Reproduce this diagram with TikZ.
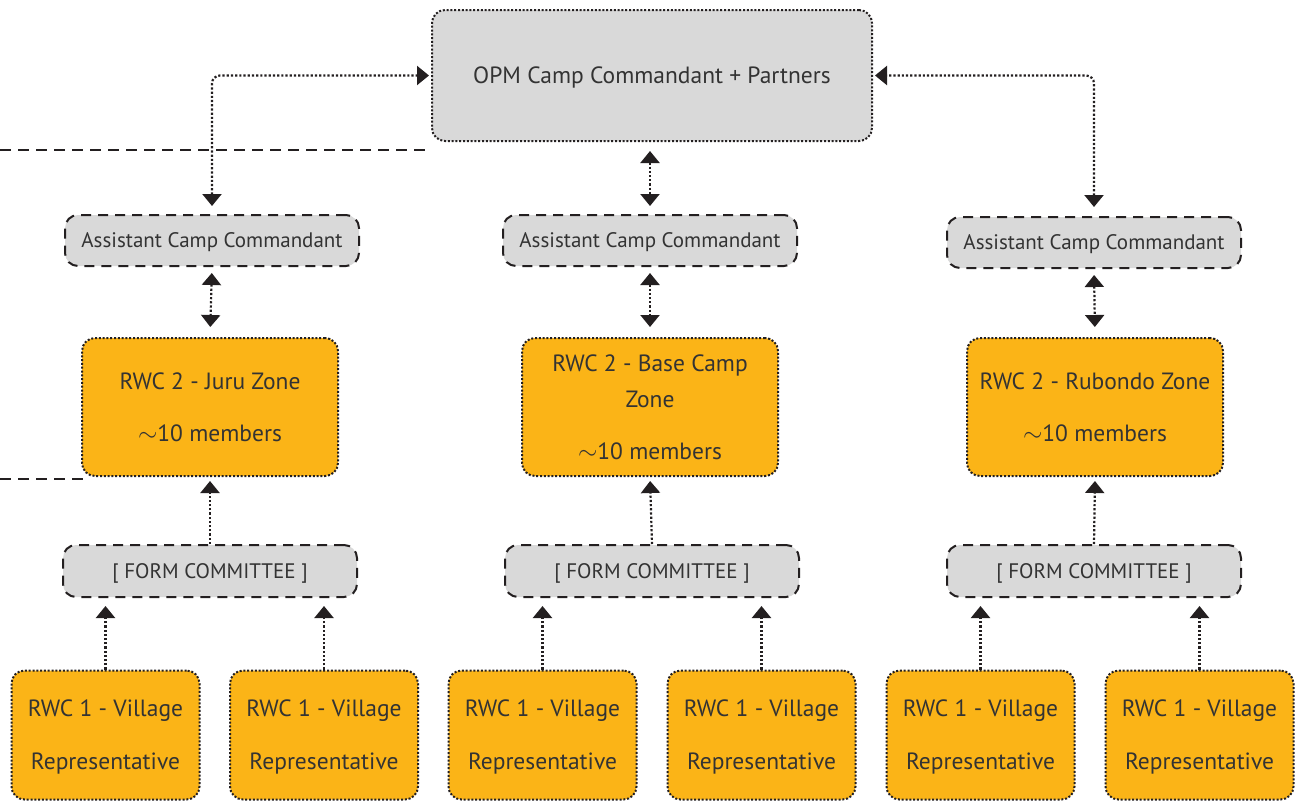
\documentclass[tikz,border=0pt]{standalone}
\usepackage{fontspec}
\setmainfont{PT Sans}
\usetikzlibrary{positioning,arrows.meta}
\definecolor{boxgray}{HTML}{D9D9D9}
\definecolor{rwcorange}{HTML}{FBB417}
\definecolor{ink}{HTML}{231F20}
\definecolor{txt}{HTML}{333333}
\tikzset{
	box/.style={rounded corners=13pt, draw=ink, line width=2pt, inner sep=0pt, align=center, text=txt, text depth=0pt, font=\fontsize{23.5}{36}\selectfont},
	dotbox/.style={box, dash pattern=on 2pt off 1.8pt},
	dashbox/.style={box, dash pattern=on 10pt off 7pt, font=\fontsize{21}{30}\selectfont},
	topbox/.style={dotbox, fill=boxgray, minimum width=440pt, minimum height=131pt},
	acbox/.style={dashbox, fill=boxgray, minimum width=294pt, minimum height=51pt},
	fcbox/.style={dashbox, fill=boxgray, minimum width=294pt, minimum height=52pt},
	zonebox/.style={dotbox, fill=rwcorange, minimum width=256pt, minimum height=138pt},
	villbox/.style={dotbox, fill=rwcorange, minimum width=188pt, minimum height=129pt},
	link/.style={draw=ink, line width=2.2pt, dash pattern=on 2.2pt off 2pt, arrows={-Triangle[width=19pt,length=12pt]}},
	twoway/.style={link, arrows={Triangle[width=19pt,length=12pt]-Triangle[width=19pt,length=12pt]}},
	sepline/.style={draw=ink, line width=1.8pt, dash pattern=on 11pt off 7pt}
}
\newcommand{\rwcvill}{RWC 1 - Village\\[17pt]Representative}
\begin{document}
\begin{tikzpicture}[x=1pt,y=-1pt]
	\useasboundingbox (0,0) rectangle (1295,801);
	% top
	\node (opm) [topbox] at (652,75.5) {OPM Camp Commandant + Partners};
	% assistants
	\node (acL) [acbox] at (212,240.5) {Assistant Camp Commandant};
	\node (acM) [acbox] at (650,240.5) {Assistant Camp Commandant};
	\node (acR) [acbox] at (1094,242.5) {Assistant Camp Commandant};
	% zones
	\node (rwcL) [zonebox] at (210,407) {RWC 2 - Juru Zone\\[16pt]$\sim$10 members};
	\node (rwcM) [zonebox] at (650,407) {RWC 2 - Base Camp\\Zone\\[16pt]$\sim$10 members};
	\node (rwcR) [zonebox] at (1095,407) {RWC 2 - Rubondo Zone\\[16pt]$\sim$10 members};
	% committees
	\node (fcL) [fcbox] at (210,571) {[ FORM COMMITTEE ]};
	\node (fcM) [fcbox] at (652,571) {[ FORM COMMITTEE ]};
	\node (fcR) [fcbox] at (1094,571) {[ FORM COMMITTEE ]};
	% villages
	\node (v1) [villbox] at (105.5,735) {\rwcvill};
	\node (v2) [villbox] at (324,735) {\rwcvill};
	\node (v3) [villbox] at (542.5,735) {\rwcvill};
	\node (v4) [villbox] at (761.5,735) {\rwcvill};
	\node (v5) [villbox] at (980.5,735) {\rwcvill};
	\node (v6) [villbox] at (1199.5,735) {\rwcvill};
	% dashed separators
	\coordinate (edgeT) at (0,150);
	\coordinate (edgeB) at (0,479);
	\draw[sepline] (edgeT) -- (edgeT -| opm.west);
	\draw[sepline] (edgeB) -- ([xshift=6pt]edgeB -| rwcL.west);
	% links from the top
	\draw[twoway, rounded corners=8pt, shorten <=8pt, shorten >=2pt] (acL.north) |- (opm.west);
	\draw[twoway, rounded corners=8pt, shorten <=9pt, shorten >=2pt] (acR.north) |- (opm.east);
	\draw[twoway, shorten <=9pt, shorten >=8pt] (acM.north |- opm.south) -- (acM.north);
	% assistants to zones
	\foreach \s in {L,M,R}
		\draw[twoway, shorten <=6pt, shorten >=10pt] (ac\s.south) -- (rwc\s.north);
	% committees to zones
	\foreach \s in {L,M,R}
		\draw[link, shorten >=4pt] (fc\s.north) -- (rwc\s.south);
	% villages to committees
	\draw[link, shorten >=8pt] (v1.north) -- (v1.north |- fcL.south);
	\draw[link, shorten >=8pt] (v2.north) -- (v2.north |- fcL.south);
	\draw[link, shorten >=8pt] (v3.north) -- (v3.north |- fcM.south);
	\draw[link, shorten >=8pt] (v4.north) -- (v4.north |- fcM.south);
	\draw[link, shorten >=8pt] (v5.north) -- (v5.north |- fcR.south);
	\draw[link, shorten >=8pt] (v6.north) -- (v6.north |- fcR.south);
\end{tikzpicture}
\end{document}
